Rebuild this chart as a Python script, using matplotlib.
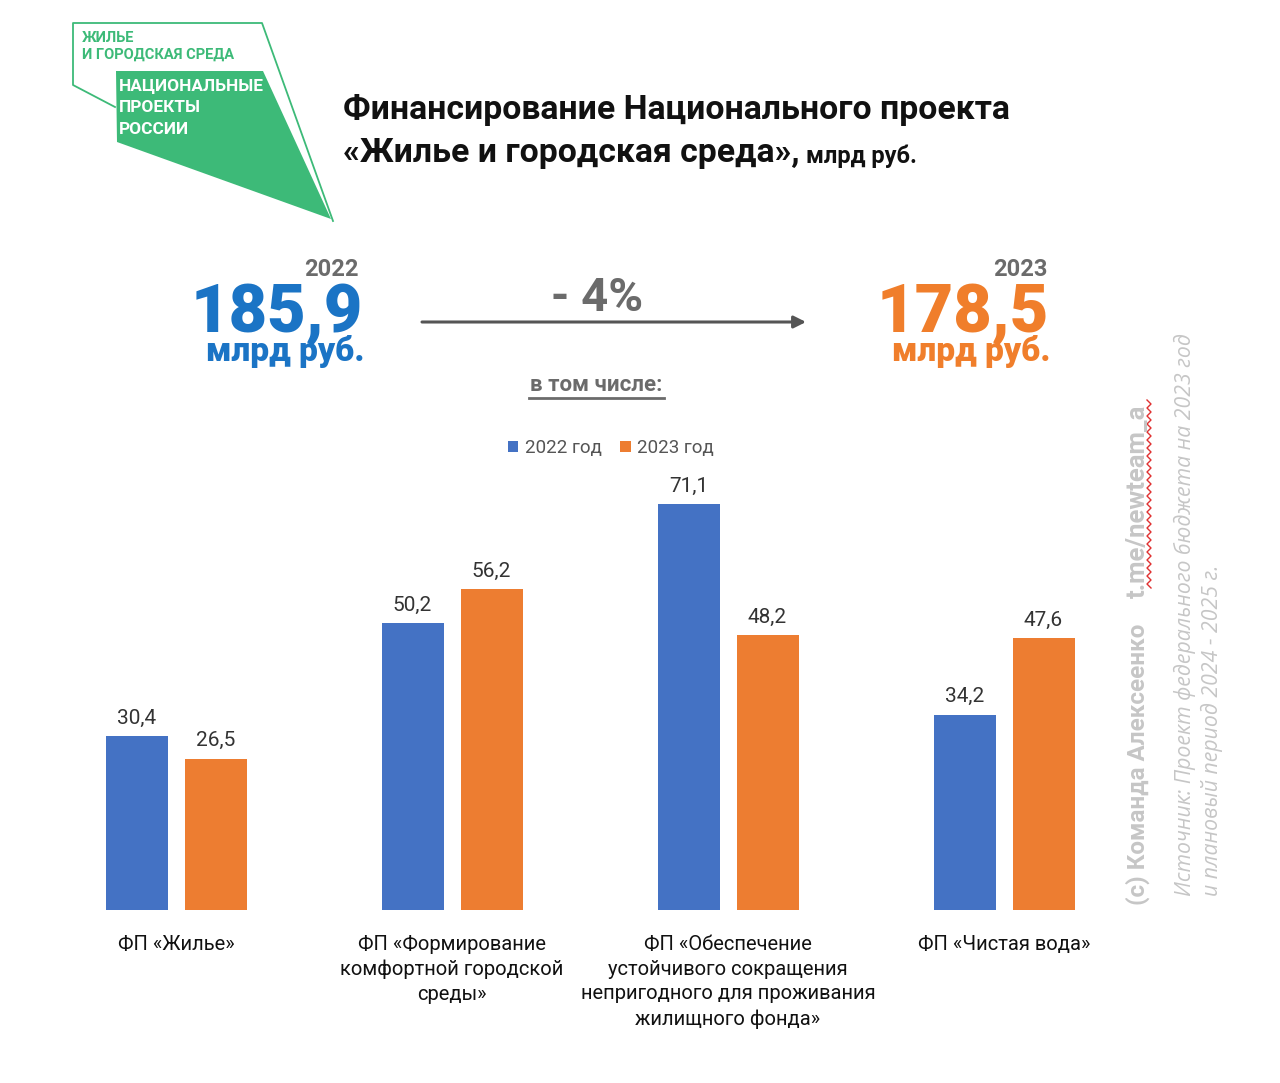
import matplotlib
matplotlib.use("Agg")
import matplotlib.pyplot as plt
from matplotlib.patches import Polygon
import numpy as np

# ---------------- data ----------------
categories = [
    "ФП «Жилье»",
    "ФП «Формирование\nкомфортной городской\nсреды»",
    "ФП «Обеспечение\nустойчивого сокращения\nнепригодного для проживания\nжилищного фонда»",
    "ФП «Чистая вода»",
]
series_names = ["2022 год", "2023 год"]
values_2022 = [30.4, 50.2, 71.1, 34.2]
values_2023 = [26.5, 56.2, 48.2, 47.6]
total_2022 = "185,9"
total_2023 = "178,5"
change_label = "- 4%"

BLUE = "#4472C4"
ORANGE = "#ED7D31"
BIG_BLUE = "#1B74C5"
BIG_ORANGE = "#F07E2B"
GRAY = "#6B6B6B"
GREEN = "#3DBA78"
SIDE = "#C6C6C6"

W, H = 1280, 1083
fig = plt.figure(figsize=(W / 100, H / 100), dpi=100)
fig.patch.set_facecolor("white")


def P(x, y):
    return (x / W, 1 - y / H)


FONT = ["Roboto", "DejaVu Sans"]

# ---------------- logo ----------------
logo = fig.add_axes([0, 0, 1, 1], zorder=0)
logo.set_xlim(0, W)
logo.set_ylim(H, 0)
logo.axis("off")
logo.add_patch(Polygon([(116, 71), (263, 71), (331, 219), (117, 142)],
                       closed=True, facecolor=GREEN, edgecolor="none"))
logo.plot([115, 73, 73, 262, 333], [107, 85, 23, 23, 221], color=GREEN, lw=1.3)
logo.text(82, 38, "ЖИЛЬЕ", color=GREEN, fontsize=10.5, fontweight="bold",
          family=FONT, va="center")
logo.text(82, 55, "И ГОРОДСКАЯ СРЕДА", color=GREEN, fontsize=10.5, fontweight="bold",
          family=FONT, va="center")
logo_lines = []
for i, t in enumerate(["НАЦИОНАЛЬНЫЕ", "ПРОЕКТЫ", "РОССИИ"]):
    logo_lines.append(logo.text(119, 86 + i * 22, t, color="white", fontsize=15,
                                fontweight="bold", family=FONT, va="center"))

# ---------------- title ----------------
fig.text(*P(343, 110), "Финансирование Национального проекта", fontsize=24.3,
         fontweight="bold", family=FONT, va="center", ha="left", color="#111111")
fig.text(*P(343, 153), "«Жилье и городская среда»,", fontsize=24.3,
         fontweight="bold", family=FONT, va="center", ha="left", color="#111111")
fig.text(*P(806, 156), "млрд руб.", fontsize=17, fontweight="bold", family=FONT,
         va="center", ha="left", color="#111111")

# ---------------- totals ----------------
fig.text(*P(359, 269), "2022", fontsize=17, fontweight="bold", family=FONT,
         color=GRAY, ha="right", va="center")
fig.text(*P(363, 332), total_2022, fontsize=48, fontweight="heavy", family=FONT,
         color=BIG_BLUE, ha="right", va="baseline")
fig.text(*P(364, 361), "млрд руб.", fontsize=24, fontweight="heavy", family=FONT,
         color=BIG_BLUE, ha="right", va="baseline")

fig.text(*P(1048, 269), "2023", fontsize=17, fontweight="bold", family=FONT,
         color=GRAY, ha="right", va="center")
fig.text(*P(1049, 332), total_2023, fontsize=48, fontweight="heavy", family=FONT,
         color=BIG_ORANGE, ha="right", va="baseline")
fig.text(*P(1050, 361), "млрд руб.", fontsize=24, fontweight="heavy", family=FONT,
         color=BIG_ORANGE, ha="right", va="baseline")

fig.text(*P(597, 298), change_label, fontsize=34, fontweight="bold", family=FONT,
         color=GRAY, ha="center", va="center")
logo.annotate("", xy=(806, 322), xytext=(422, 322),
              arrowprops=dict(arrowstyle="-|>", color="#555555", lw=2.2,
                              mutation_scale=18, shrinkA=0, shrinkB=0))

fig.text(*P(596, 385), "в том числе:", fontsize=16, fontweight="bold", family=FONT,
         color=GRAY, ha="center", va="center")
logo.plot([529, 664], [398, 398], color=GRAY, lw=2)

# ---------------- side texts ----------------
fig.text(*P(1138, 905), "(c) Команда Алексеенко", rotation=90, rotation_mode="anchor",
         ha="left", va="center", fontsize=17.5, fontweight="bold", family=FONT,
         color=SIDE)
fig.text(*P(1138, 598), "t.me/newteam_a", rotation=90, rotation_mode="anchor",
         ha="left", va="center", fontsize=18.5, fontweight="bold", family=FONT,
         color=SIDE)
zz_y = np.arange(400, 592, 4)
zz_x = np.where((np.arange(len(zz_y)) % 2) == 0, 1147, 1151)
logo.plot(zz_x, zz_y, color="#E03030", lw=1)
fig.text(*P(1185, 896), "Источник: Проект федерального бюджета на 2023 год",
         rotation=90, rotation_mode="anchor", ha="left", va="center", fontsize=15.3,
         style="italic", family=["Open Sans", "DejaVu Sans"], color=SIDE)
fig.text(*P(1212, 896), "и плановый период 2024 - 2025 г.",
         rotation=90, rotation_mode="anchor", ha="left", va="center", fontsize=15.3,
         style="italic", family=["Open Sans", "DejaVu Sans"], color=SIDE)

# ---------------- bar chart ----------------
px_per_unit = 5.71
ax_left, ax_right, ax_top, base = 40, 1100, 470, 910
ax = fig.add_axes([ax_left / W, (H - base) / H, (ax_right - ax_left) / W,
                   (base - ax_top) / H], zorder=2)
ax.patch.set_alpha(0)
group_px = 276.0
first_px = 176.0
ax.set_xlim((ax_left - first_px) / group_px, (ax_right - first_px) / group_px)
ax.set_ylim(0, (base - ax_top) / px_per_unit)

x = np.arange(len(categories))
bw = 62 / group_px
off = 39.5 / group_px
b1 = ax.bar(x - off, values_2022, bw, color=BLUE, label=series_names[0])
b2 = ax.bar(x + off, values_2023, bw, color=ORANGE, label=series_names[1])
for b, vals in ((b1, values_2022), (b2, values_2023)):
    ax.bar_label(b, labels=[f"{v:.1f}".replace(".", ",") for v in vals],
                 padding=6, fontsize=15, color="#333333", family=FONT)

for s in ax.spines.values():
    s.set_visible(False)
ax.set_yticks([])
ax.set_xticks(x)
ax.set_xticklabels(categories, fontsize=14.5, family=FONT, color="#111111",
                   linespacing=1.38, va="top")
ax.tick_params(axis="x", length=0, pad=18)

leg = ax.legend(loc="center", bbox_to_anchor=P(611, 448), bbox_transform=fig.transFigure,
                ncol=2, frameon=False, handlelength=0.55, handleheight=0.55,
                handletextpad=0.35, columnspacing=1.0,
                prop={"family": FONT, "size": 13.5})
for t in leg.get_texts():
    t.set_color("#555555")

# fit logo words into the green band width
renderer = fig.canvas.get_renderer()
w0 = logo_lines[0].get_window_extent(renderer).width
scale = 145.0 / w0
for t in logo_lines:
    t.set_fontsize(t.get_fontsize() * scale)

fig.savefig("out.png", dpi=100, facecolor="white")
